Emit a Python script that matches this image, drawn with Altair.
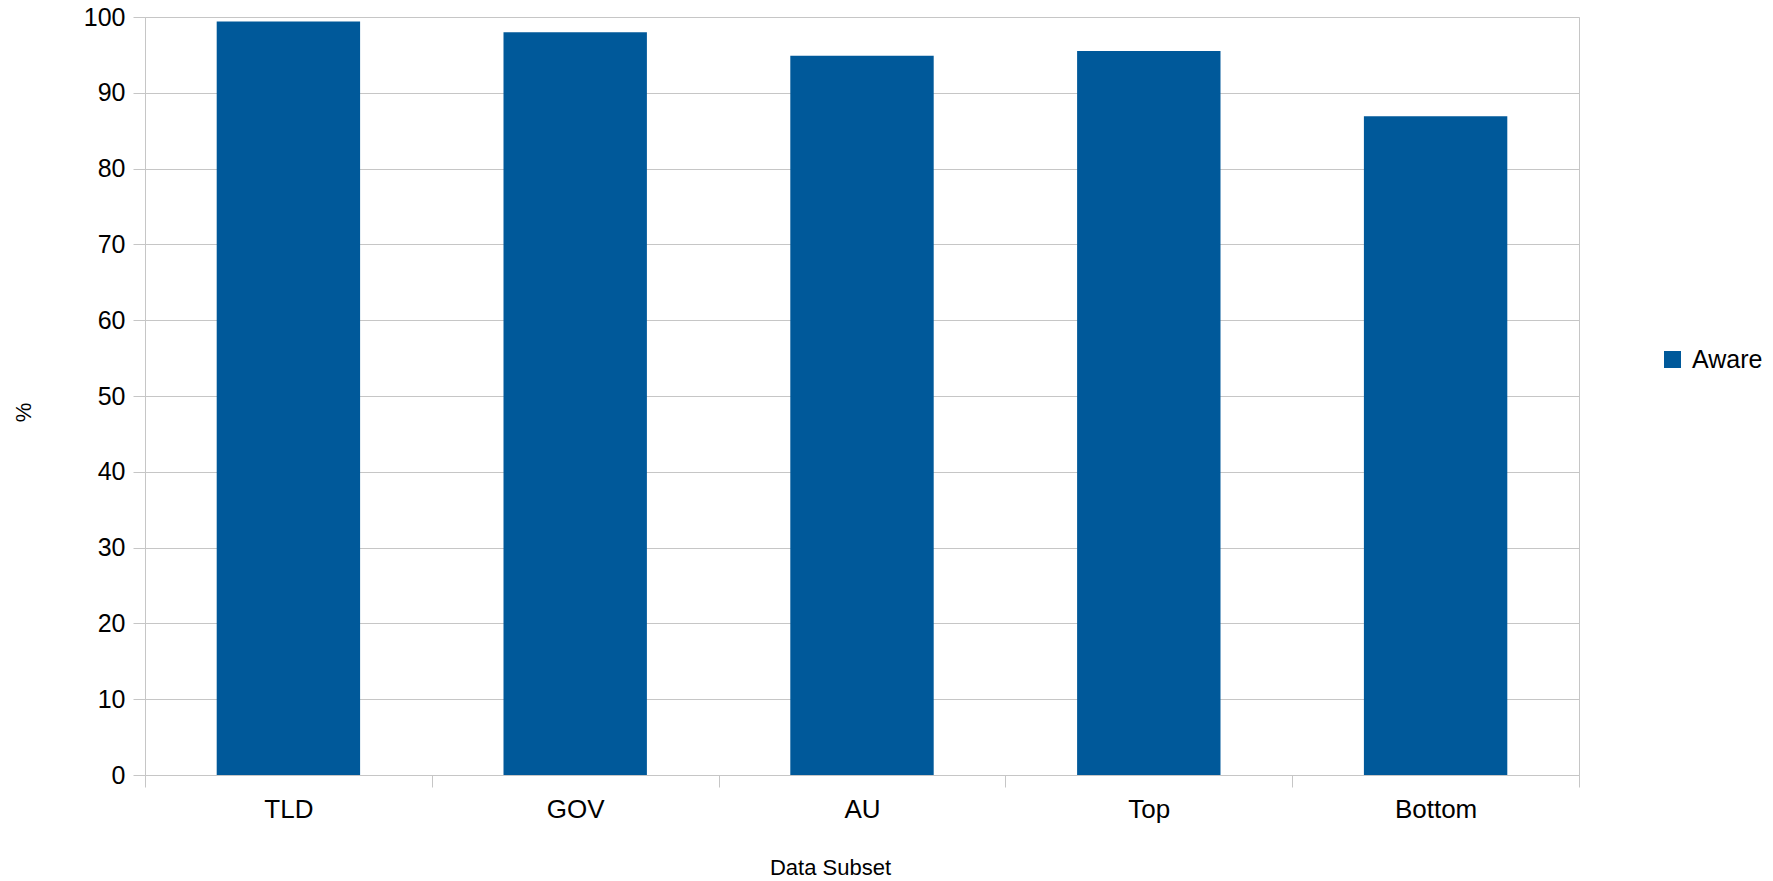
import altair as alt
import pandas as pd

categories = ["TLD", "GOV", "AU", "Top", "Bottom"]
aware = [99.4, 98.0, 94.9, 95.5, 86.9]
series = ["Aware"] * len(categories)
y_ticks = list(range(0, 101, 10))

df = pd.DataFrame({"subset": categories, "pct": aware, "series": series})

GRAY = "#c6c6c6"
BLUE = "#00599a"
FONT = "Liberation Sans"
W, H = 1434, 758

chart = alt.Chart(df).mark_bar(width=alt.RelativeBandSize(0.5)).encode(
    x=alt.X(
        "subset:N",
        sort=categories,
        scale=alt.Scale(paddingInner=0, paddingOuter=0),
        axis=alt.Axis(
            title="Data Subset",
            labelAngle=0,
            tickBand="extent",
            tickSize=12,
            tickColor=GRAY,
            domainColor=GRAY,
            labelPadding=30,
            labelBaseline="alphabetic",
            labelFontSize=26,
            labelColor="black",
            titleFontSize=22,
            titleFontWeight="normal",
            titleColor="black",
            titleX=685,
            titleY=99,
            titleBaseline="alphabetic",
            grid=False,
        ),
    ),
    y=alt.Y(
        "pct:Q",
        scale=alt.Scale(domain=[0, 100], nice=False),
        axis=alt.Axis(
            title="%",
            values=y_ticks,
            tickSize=12,
            tickColor=GRAY,
            domainColor=GRAY,
            gridColor=GRAY,
            labelPadding=8,
            labelFontSize=25,
            labelColor="black",
            titleFontSize=22,
            titleFontWeight="normal",
            titleColor="black",
            titleX=-122,
            titleY=395,
            titleAngle=270,
            titleBaseline="middle",
        ),
    ),
    color=alt.Color(
        "series:N",
        scale=alt.Scale(range=[BLUE]),
        legend=alt.Legend(
            title=None,
            orient="none",
            legendX=1515,
            legendY=330,
            symbolType="square",
            symbolSize=289,
            symbolStrokeWidth=0,
            labelFontSize=25,
            labelOffset=7,
            labelColor="black",
            padding=0,
        ),
    ),
).properties(
    width=W,
    height=H,
    autosize=alt.AutoSizeParams(type="none"),
    padding={"left": 137, "top": 9, "right": 186, "bottom": 106},
).configure(
    font=FONT,
).configure_view(
    stroke=GRAY,
)

chart.save("out.html", embed_options={"renderer": "svg", "actions": False})
